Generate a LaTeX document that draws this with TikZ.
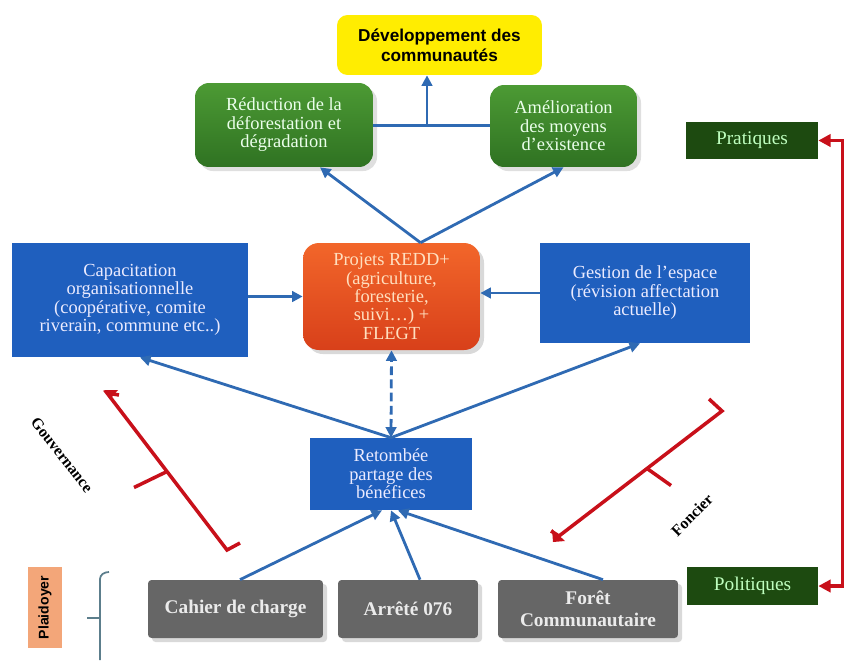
\documentclass[tikz,border=0pt]{standalone}
\usepackage{fontspec}
\setmainfont{Liberation Serif}
\setsansfont{Liberation Sans}
\usetikzlibrary{calc,arrows.meta,shadows}

\definecolor{bleuFleche}{HTML}{2F6AB3}
\definecolor{bleuBoite}{HTML}{1F5FBE}
\definecolor{rougeTrait}{HTML}{C8101A}
\definecolor{vertClair}{HTML}{4C9A34}
\definecolor{vertFonce}{HTML}{2F7222}
\definecolor{vertNuit}{HTML}{1D4A10}
\definecolor{orangeHaut}{HTML}{F2662A}
\definecolor{orangeBas}{HTML}{D8401A}
\definecolor{grisBoite}{HTML}{666666}
\definecolor{saumon}{HTML}{F3A679}
\definecolor{ardoise}{HTML}{5C7E8C}

\begin{document}
\begin{tikzpicture}[x=0.02cm,y=-0.02cm,
    boite/.style={align=center, inner sep=2pt, font=\fontsize{10.5}{10.5}\selectfont},
    jaune/.style={boite, fill=yellow!95!orange, rounded corners=6pt, font=\sffamily\bfseries\fontsize{9.8}{11.4}\selectfont,
        minimum width=4.1cm, minimum height=1.2cm},
    vert/.style={boite, rounded corners=8pt, top color=vertClair, bottom color=vertFonce, text=green!8!white,
        drop shadow={opacity=0.25}},
    bleu/.style={boite, fill=bleuBoite, text=blue!8!white},
    projet/.style={boite, rounded corners=9pt, top color=orangeHaut, bottom color=orangeBas, text=orange!25!white,
        drop shadow={opacity=0.3}},
    gris/.style={boite, fill=grisBoite, rounded corners=2pt, text=white!92!black, font=\bfseries\fontsize{11}{12.5}\selectfont,
        minimum height=1.16cm, drop shadow={opacity=0.3}},
    niveau/.style={boite, fill=vertNuit, text=green!25!white, font=\fontsize{11}{11}\selectfont, minimum height=0.75cm},
    fleche/.style={draw=bleuFleche, line width=1.6pt, -{Triangle[length=6pt,width=6pt]}},
    accolade/.style={draw=rougeTrait, line width=2pt, line join=miter},
    etiquette/.style={font=\bfseries\fontsize{9}{9}\selectfont}
]
    \useasboundingbox (0,0) rectangle (857,660);

    % boites
    \node[jaune] (dev) at (439.5,45) {Développement des\\communautés};
    \node[vert, minimum width=3.56cm, minimum height=1.68cm] (redu) at (284,125) {Réduction de la\\déforestation et\\dégradation};
    \node[vert, minimum width=2.94cm, minimum height=1.64cm] (amel) at (563.5,126) {Amélioration\\des moyens\\d’existence};
    \node[projet, minimum width=3.54cm, minimum height=2.14cm] (projets) at (391.5,296.5) {Projets REDD+\\(agriculture,\\foresterie,\\suivi\ldots) +\\FLEGT};
    \node[bleu, minimum width=4.72cm, minimum height=2.28cm] (capa) at (130,300) {Capacitation\\organisationnelle\\(coopérative, comite\\riverain, commune etc..)};
    \node[bleu, minimum width=4.2cm, minimum height=2cm] (gest) at (645,293) {Gestion de l’espace\\(révision affectation\\actuelle)};
    \node[bleu, minimum width=3.24cm, minimum height=1.44cm] (reto) at (391,474) {Retombée\\partage des\\bénéfices};
    \node[gris, minimum width=3.5cm] (cahier) at (235.5,609) {Cahier de charge};
    \node[gris, minimum width=2.8cm] (arrete) at (408,609) {Arrêté 076};
    \node[gris, minimum width=3.6cm] (foret) at (588,609) {Forêt\\Communautaire};
    \node[niveau, minimum width=2.64cm] (prat) at (752,140.5) {Pratiques};
    \node[niveau, minimum width=2.62cm] (poli) at (752.5,586) {Politiques};
    \node[fill=saumon, rotate=90, minimum width=1.62cm, minimum height=0.68cm, inner sep=1pt,
        font=\sffamily\bfseries\fontsize{8}{8}\selectfont] (plaid) at (45,607.5) {Plaidoyer};

    % liaisons
    \coordinate (J) at (427,125.5);
    \draw[bleuFleche, line width=1.6pt] (redu.east |- J) -- (amel.west |- J);
    \draw[fleche] (J) -- (J |- dev.south);
    \draw[fleche] ([xshift=0.58cm]projets.north) -- ([xshift=0.72cm]redu.south);
    \draw[fleche] ([xshift=0.58cm]projets.north) -- (amel.south);
    \draw[fleche] (capa.east |- projets.west) -- (projets.west);
    \draw[fleche] (gest.west) -- (gest.west -| projets.east);
    \draw[fleche, {Triangle[length=6pt,width=6pt]}-{Triangle[length=6pt,width=6pt]}, dash pattern=on 5pt off 2.5pt] (reto.north) -- (projets.south);
    \draw[fleche] (reto.north) -- ([xshift=0.2cm]capa.south);
    \draw[fleche] (reto.north) -- ([xshift=-0.1cm]gest.south);
    \draw[fleche] ([xshift=0.09cm]cahier.north) -- ([xshift=-0.18cm]reto.south);
    \draw[fleche] ([xshift=0.24cm]arrete.north) -- (reto.south);
    \draw[fleche] ([xshift=0.3cm]foret.north) -- ([xshift=0.14cm]reto.south);
    \draw[rougeTrait, line width=2pt, {Triangle[length=7pt,width=7pt]}-{Triangle[length=7pt,width=7pt]}]
        (prat.east) -- ++(24,0) |- (poli.east);

    % accolades
    \coordinate (Gh) at (107,393);
    \coordinate (Gb) at (227,550);
    \coordinate (Gm) at ($(Gh)!0.5!(Gb)$);
    \draw[accolade] (119,395) -- (Gh) -- (Gb) -- (240,543);
    \draw[accolade] (Gm) -- ++(-33,16);
    \fill[rougeTrait] (104,390) -- (118,390) -- (111,398) -- cycle;
    \coordinate (Fh) at (722,411);
    \coordinate (Fb) at (559,536);
    \coordinate (Fm) at ($(Fb)!0.54!(Fh)$);
    \draw[accolade] (709,399) -- (Fh) -- (Fb) -- (551,531);
    \draw[accolade] (Fm) -- ++(24,17);
    \fill[rougeTrait] (552,529) -- (565,541) -- (553,542) -- cycle;
    \node[etiquette, rotate=-52] (gouv) at (62,455) {Gouvernance};
    \node[etiquette, rotate=45] (fonc) at (692,515) {Foncier};
    \draw[ardoise, line width=1pt] (109,572) to[out=180,in=90] (100,579) -- (100,660);
    \draw[ardoise, line width=1pt] (100,618) -- (87,618);
\end{tikzpicture}
\end{document}
